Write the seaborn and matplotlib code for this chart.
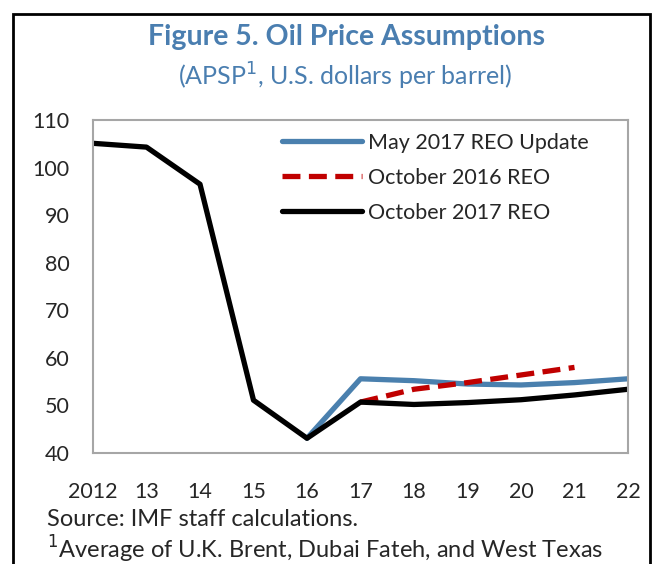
import seaborn as sns
import matplotlib.pyplot as plt
import pandas as pd
import numpy as np
from matplotlib.patches import Rectangle

# data
years = [2012, 2013, 2014, 2015, 2016, 2017, 2018, 2019, 2020, 2021, 2022]
tick_labels = ["2012", "13", "14", "15", "16", "17", "18", "19", "20", "21", "22"]

may17_years = [2016, 2017, 2018, 2019, 2020, 2021, 2022]
may17 = [43.1, 55.6, 55.2, 54.5, 54.3, 54.8, 55.6]

oct16_years = [2017, 2018, 2019, 2020, 2021]
oct16 = [50.7, 53.4, 54.8, 56.4, 58.0]

oct17 = [105.1, 104.3, 96.5, 51.1, 43.1, 50.7, 50.2, 50.6, 51.2, 52.2, 53.4]

df = pd.concat([
    pd.DataFrame({"year": may17_years, "price": may17, "series": "May 2017 REO Update"}),
    pd.DataFrame({"year": oct16_years, "price": oct16, "series": "October 2016 REO"}),
    pd.DataFrame({"year": years, "price": oct17, "series": "October 2017 REO"}),
])

sns.set_style("white")
plt.rcParams['font.family'] = ['Lato', 'DejaVu Sans']

fig = plt.figure(figsize=(6.59, 5.64), dpi=100)
ax = fig.add_axes([93/659, 1-453/564, (628-93)/659, (453-120)/564])

palette = {"May 2017 REO Update": "#4a80ae",
           "October 2016 REO": "#c00000",
           "October 2017 REO": "#000000"}
sns.lineplot(data=df, x="year", y="price", hue="series", style="series",
             palette=palette, dashes={"May 2017 REO Update": "",
                                      "October 2016 REO": (3.4, 1.6),
                                      "October 2017 REO": ""},
             linewidth=3.8, ax=ax, legend=True)

ax.set_xlim(2012, 2022)
ax.set_ylim(40, 110)
ax.set_xticks(years)
ax.set_xticklabels(tick_labels)
ax.set_yticks(range(40, 111, 10))
ax.set_xlabel("")
ax.set_ylabel("")
ax.tick_params(axis="both", direction="in", length=6, color="#a6a6a6",
               labelsize=15.5)
ax.tick_params(axis="x", pad=21)
ax.tick_params(axis="y", pad=17)
for s in ax.spines.values():
    s.set_color("#a6a6a6")
    s.set_linewidth(1.5)

leg = ax.legend(loc="upper left", frameon=False, fontsize=15.5, handlelength=3.7,
                handletextpad=0.3, labelspacing=0.7, borderaxespad=0,
                bbox_to_anchor=(0.337, 0.988))
for line in leg.get_lines():
    line.set_linewidth(3.8)

fig.text(347/659, 1-37/564, "Figure 5. Oil Price Assumptions", ha="center", va="center",
         fontsize=20.5, fontweight="bold", color="#4a7eb0")
fig.text(345/659, 1-76/564, "(APSP$^1$, U.S. dollars per barrel)", ha="center", va="center",
         fontsize=18, color="#4a7eb0")
fig.text(47/659, 1-520/564, "Source: IMF staff calculations.", ha="left", va="center",
         fontsize=17)
fig.text(47/659, 1-549/564, "$^1$Average of U.K. Brent, Dubai Fateh, and West Texas", ha="left",
         va="center", fontsize=17)

fig.patches.append(Rectangle((13/659, -0.05), (650-13)/659, 1.05-14/564,
                             transform=fig.transFigure, fill=False,
                             edgecolor="black", linewidth=2))

fig.savefig("out.png", dpi=100)
